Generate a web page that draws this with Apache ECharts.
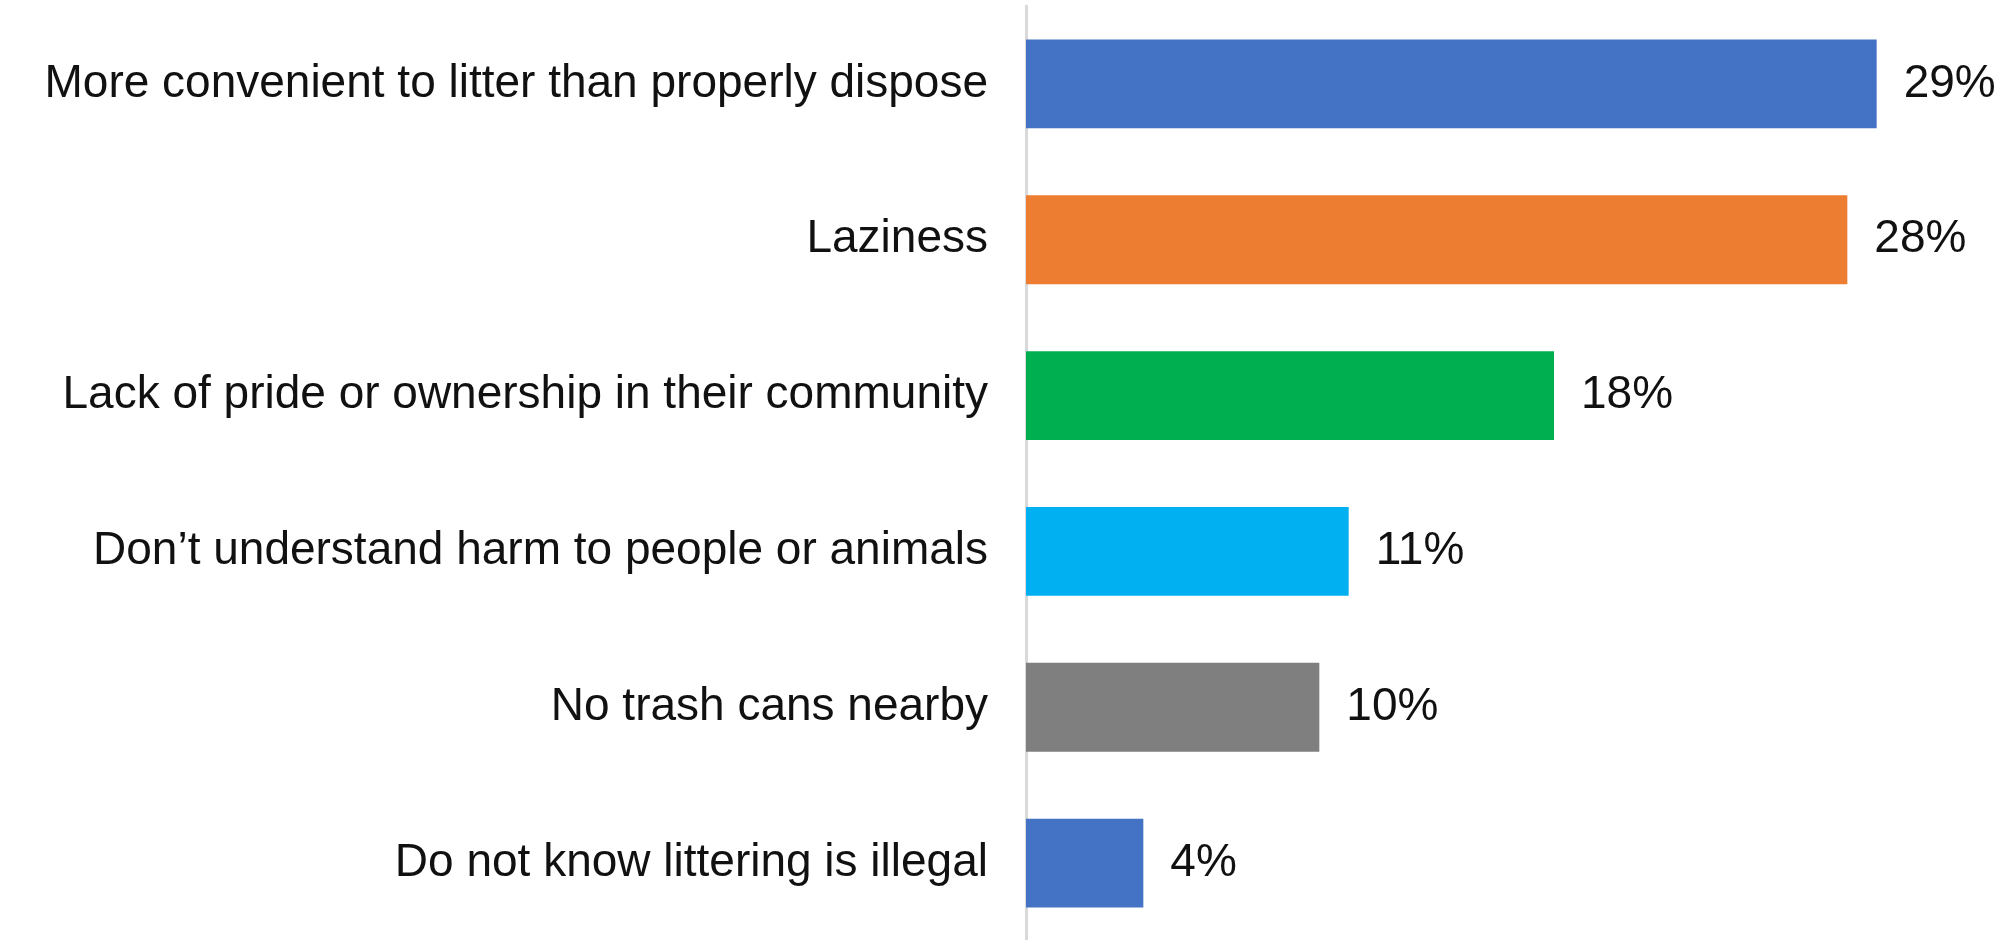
<!DOCTYPE html>
<html>
<head>
<meta charset="utf-8">
<script src="https://cdn.jsdelivr.net/npm/echarts@6/dist/echarts.min.js"></script>
<style>
  html, body { margin: 0; padding: 0; background: #fff; }
  #chart { width: 2015px; height: 940px; }
</style>
</head>
<body>
<div id="chart"></div>
<script>
// Reasons people give for littering (share of respondents, %)
const categories = [
  'More convenient to litter than properly dispose',
  'Laziness',
  'Lack of pride or ownership in their community',
  'Don\u2019t understand harm to people or animals',
  'No trash cans nearby',
  'Do not know littering is illegal'
];
const values = [29, 28, 18, 11, 10, 4];
const barColors = ['#4472C4', '#ED7D31', '#00B050', '#00B0F0', '#7F7F7F', '#4472C4'];

const FONT = '"Liberation Sans", Arial, Helvetica, sans-serif';

const chart = echarts.init(document.getElementById('chart'), null, { renderer: 'canvas' });

chart.setOption({
  animation: false,
  backgroundColor: '#ffffff',
  grid: {
    left: 1026,
    top: 6,
    width: 880,
    height: 935,
    containLabel: false,
    outerBoundsMode: 'none'
  },
  xAxis: {
    type: 'value',
    min: 0,
    max: 30,
    show: false
  },
  yAxis: {
    type: 'category',
    inverse: true,
    data: categories,
    axisLine: { show: true, lineStyle: { color: '#d9d9d9', width: 3 } },
    axisTick: { show: false },
    splitLine: { show: false },
    axisLabel: {
      margin: 38,
      fontSize: 46,
      color: '#111111',
      fontFamily: FONT
    }
  },
  series: [{
    type: 'bar',
    data: values.map((v, i) => ({ value: v, itemStyle: { color: barColors[i] } })),
    barCategoryGap: '43%',
    label: {
      show: true,
      position: 'right',
      distance: 27,
      formatter: p => p.value + '%',
      fontSize: 46,
      color: '#111111',
      fontFamily: FONT
    }
  }]
});
</script>
</body>
</html>
